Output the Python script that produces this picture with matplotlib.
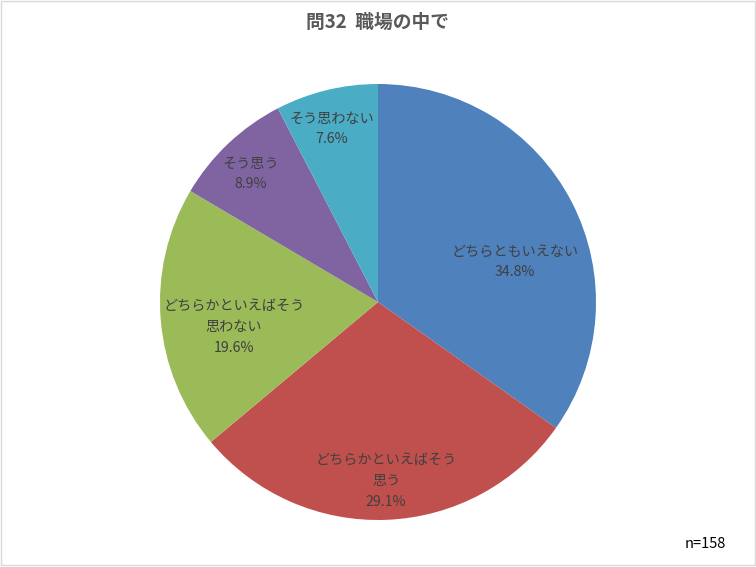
import matplotlib
matplotlib.use("Agg")
import matplotlib.pyplot as plt
from matplotlib.patches import Rectangle

plt.rcParams['font.family'] = ['Noto Sans CJK JP', 'DejaVu Sans']

title = "問32  職場の中で"
categories = ["どちらともいえない", "どちらかといえばそう\n思う", "どちらかといえばそう\n思わない",
              "そう思う", "そう思わない"]
values = [34.8, 29.1, 19.6, 8.9, 7.6]
colors = ["#4F81BD", "#C0504D", "#9BBB59", "#8064A2", "#4BACC6"]
n_note = "n=158"

# label centres in pixel coords (x, y from top)
label_pos = [(515, 262), (386, 481), (234, 327), (251, 174), (332, 129)]

W, H = 756, 567
fig = plt.figure(figsize=(W / 100, H / 100), dpi=100)
ax = fig.add_axes([0, 0, 1, 1])

cx, cy, r = 378, H - 302, 218
ax.pie(values, colors=colors, startangle=90, counterclock=False,
       center=(cx, cy), radius=r, frame=True,
       wedgeprops=dict(linewidth=0))
ax.set_xlim(0, W)
ax.set_ylim(0, H)
ax.set_aspect('equal')
ax.axis('off')

for cat, v, (px, py) in zip(categories, values, label_pos):
    ax.text(px, H - py, f"{cat}\n{v:.1f}%", ha='center', va='center',
            fontsize=10.2, color="#404040", linespacing=1.62)

fig.text(0.5, 1 - 22 / H, title, ha='center', va='center', fontsize=13.5,
         fontweight='bold', color="#595959")
fig.text(705 / W, 1 - 544 / H, n_note, ha='center', va='center', fontsize=10.5, color="black")

# chart area border
fig.patches.append(Rectangle((0.5 / W, 2.5 / H), 754 / W, 564 / H,
                             transform=fig.transFigure, fill=False,
                             edgecolor="#D9D9D9", linewidth=1))

fig.savefig("out.png", dpi=100)
